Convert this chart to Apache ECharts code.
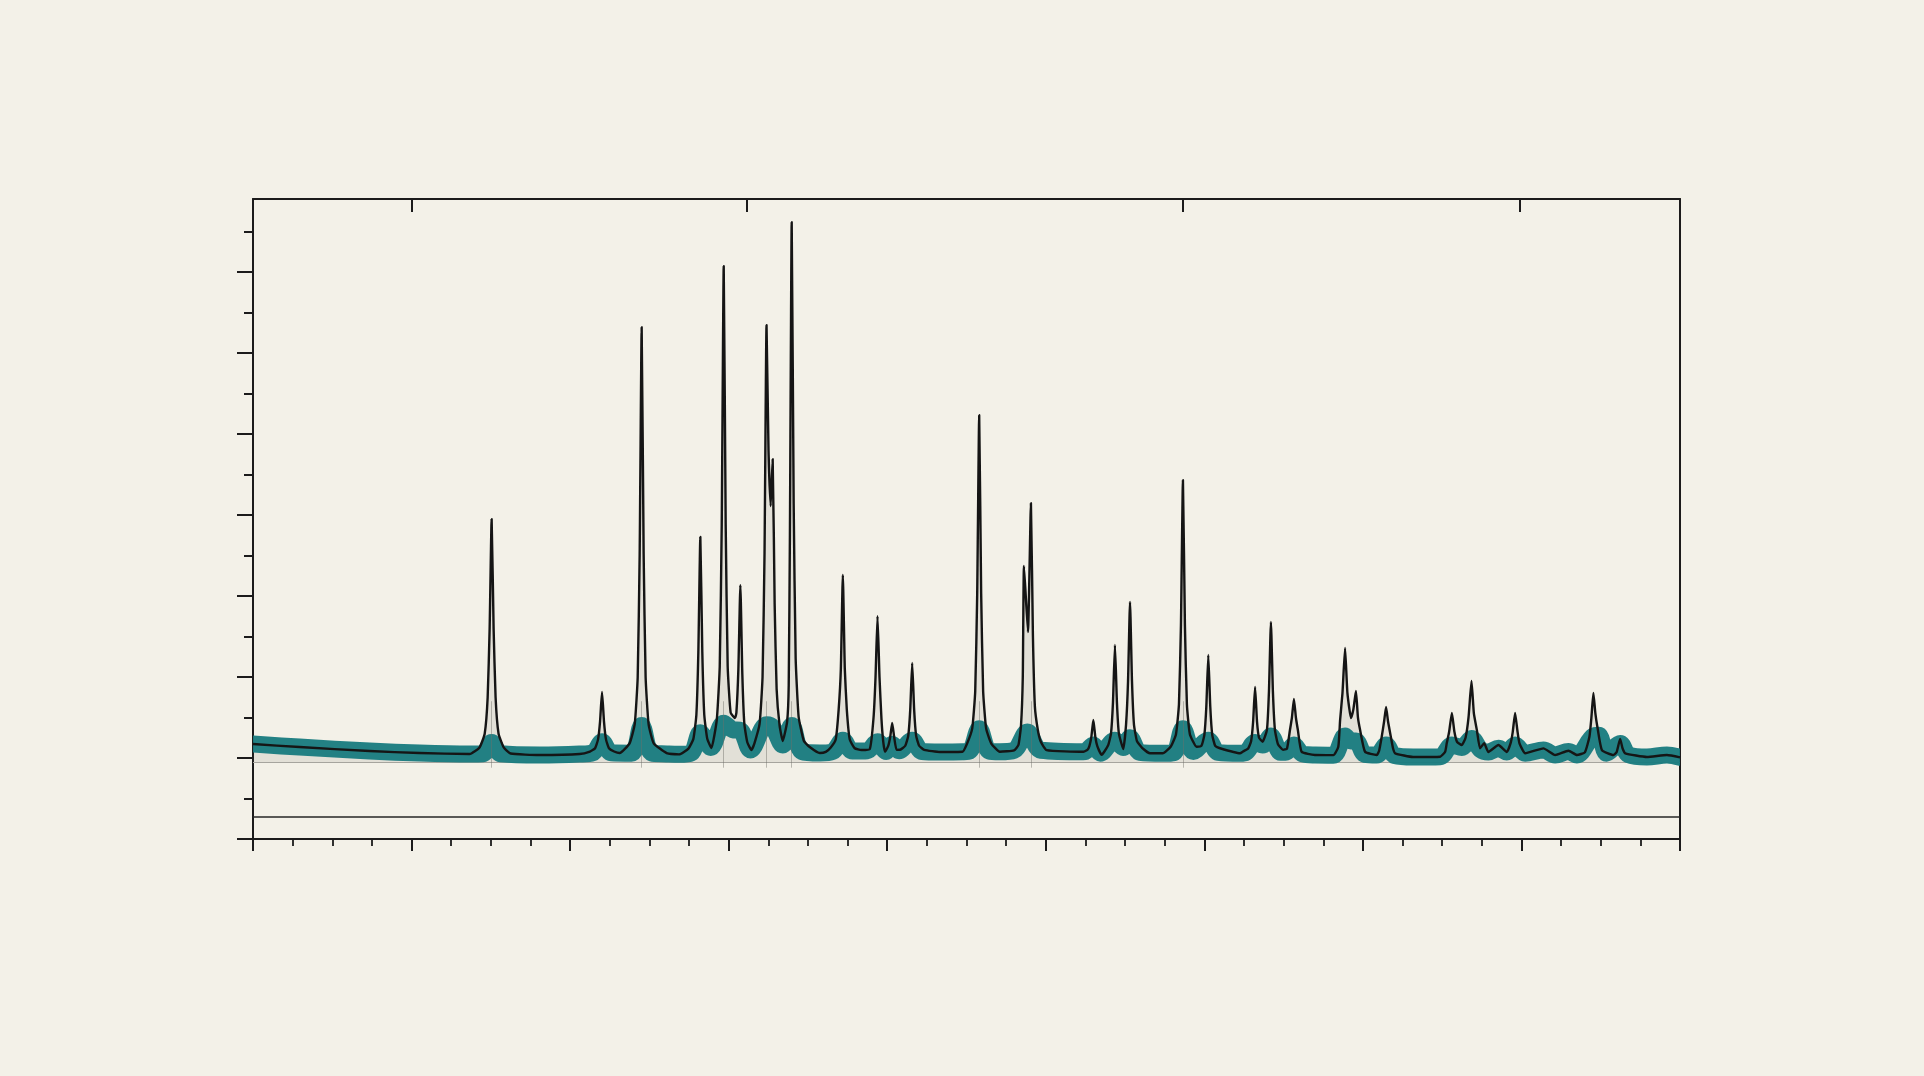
<!DOCTYPE html>
<html>
<head>
<meta charset="utf-8">
<script src="https://cdn.jsdelivr.net/npm/echarts@6/dist/echarts.min.js"></script>
<style>
html,body{margin:0;padding:0;background:#f3f1e8;}
#chart{width:1924px;height:1076px;}
</style>
</head>
<body>
<div id="chart"></div>
<script>
const twoTheta = [
  5.00,7.35,10.88,13.40,15.93,
  16.43,16.69,16.84,16.94,17.04,17.14,17.24,17.39,17.65,18.00,19.46,21.48,
  22.00,22.26,22.41,22.51,22.61,22.71,22.81,22.96,23.22,23.50,
  24.00,24.26,24.41,24.51,24.61,24.71,24.81,24.96,25.22,25.87,26.50,
  26.97,27.22,27.37,27.47,27.57,27.67,27.77,27.92,28.13,
  28.40,28.55,28.65,28.75,28.85,28.95,29.10,29.32,
  29.39,29.49,29.59,29.69,29.79,29.94,30.15,
  30.30,30.56,30.71,30.81,30.91,31.01,31.12,
  31.22,31.32,31.42,31.57,31.73,
  31.95,32.03,32.09,32.18,32.28,32.38,32.53,32.79,33.09,33.60,33.90,
  34.15,34.40,34.55,34.66,34.76,34.86,34.96,35.11,35.36,35.70,36.12,
  36.31,36.41,36.51,36.61,36.71,36.80,36.89,
  37.05,37.15,37.25,37.35,37.47,
  37.65,37.91,38.06,38.16,38.26,38.36,38.46,38.61,38.87,39.66,40.80,
  41.03,41.29,41.44,41.54,41.64,41.74,41.84,41.99,42.25,42.68,43.40,
  43.62,43.75,43.84,43.90,44.10,44.25,44.35,44.45,44.60,44.75,45.04,46.89,
  47.10,47.20,47.30,47.40,47.50,47.60,47.82,
  48.14,48.29,48.39,48.49,48.59,48.69,48.91,
  49.05,49.15,49.25,49.35,49.45,49.60,49.86,50.26,50.90,
  51.31,51.57,51.72,51.82,51.92,52.02,52.12,52.27,52.61,
  52.85,53.00,53.10,53.20,53.30,53.40,53.55,53.79,54.80,
  54.95,55.21,55.36,55.46,55.56,55.66,55.76,55.94,
  56.16,56.26,56.36,56.46,56.56,56.71,56.97,
  57.17,57.32,57.42,57.52,57.62,57.72,57.91,58.58,59.51,
  59.76,59.85,59.97,60.10,60.22,60.40,60.52,60.65,60.75,60.86,61.11,61.70,
  61.82,61.95,62.07,62.17,62.27,62.41,62.52,62.63,63.53,64.90,
  65.15,65.23,65.35,65.49,65.62,65.75,65.99,
  66.18,66.33,66.48,66.60,66.75,66.91,67.12,67.33,67.84,68.26,
  68.45,68.56,68.68,68.80,68.90,69.19,70.11,70.70,71.37,71.80,
  72.20,72.43,72.53,72.63,72.73,72.83,73.06,73.64,
  73.80,73.98,74.10,74.24,75.33,76.34,77.00
];
const intensity = [
  1172,1135,1086,1061,1049,
  1130,1300,1750,2600,3949,2600,1750,1300,1130,1055,1037,1049,
  1080,1120,1230,1450,1814,1450,1230,1120,1080,1061,
  1181,1418,1997,3525,6318,3525,1997,1418,1181,1061,1045,
  1116,1236,1531,2308,3727,2308,1531,1236,1123,
  1471,2133,3879,7071,3879,2133,1560,1493,
  1560,2100,3134,2029,1424,1195,1098,
  1181,1420,2002,3537,6343,4800,4109,
  4689,2900,1850,1400,1210,
  1450,1900,3751,7614,4135,2231,1509,1213,1135,1061,1075,
  1129,1227,1600,2100,3258,2100,1600,1227,1120,1098,1110,
  1500,2000,2752,2000,1480,1200,1075,
  1150,1260,1431,1260,1100,
  1101,1151,1272,1590,2172,1590,1272,1151,1101,1074,1077,
  1178,1365,1822,3028,5232,3028,1822,1365,1178,1077,1095,
  1160,1400,2000,3369,2554,4146,2524,1637,1345,1200,1098,1077,
  1100,1147,1261,1468,1261,1147,1040,
  1153,1300,1687,2394,1687,1300,1110,
  1412,1947,2925,1947,1412,1209,1126,1058,1058,
  1142,1294,1665,2643,4430,2643,1665,1294,1139,
  1149,1282,1632,2271,1632,1282,1149,1120,1058,
  1080,1117,1207,1444,1876,1444,1250,1201,
  1351,1820,2678,1820,1351,1173,1100,
  1116,1345,1500,1728,1500,1345,1077,1037,1035,
  1139,1468,1800,2357,1800,1493,1600,1826,1500,1345,1077,1037,
  1090,1262,1450,1629,1450,1262,1120,1058,1012,1016,
  1077,1181,1320,1555,1320,1200,1160,
  1250,1500,1950,1550,1345,1119,1181,1074,1160,1074,
  1180,1320,1555,1330,1181,1058,1119,1037,1090,1037,
  1070,1262,1500,1802,1550,1386,1098,1037,
  1070,1234,1120,1058,1012,1037,1008
];
// ---- calculated (teal band) trace ----
const calcTheta = [
  5.00,7.35,10.88,13.40,15.93,
  16.60,17.04,17.50,19.46,21.48,
  22.15,22.61,23.07,24.10,24.61,25.12,25.87,26.50,
  27.10,27.57,28.10,28.75,29.20,29.59,30.10,30.91,31.22,31.73,32.18,32.70,
  33.60,34.25,34.76,35.25,36.00,36.51,36.95,37.25,37.60,38.26,38.75,
  39.66,40.80,41.15,41.64,42.15,42.68,43.40,44.07,44.75,46.89,
  47.00,47.40,47.75,48.49,48.90,49.25,49.75,50.90,
  51.45,51.92,52.45,53.20,53.70,54.80,
  55.10,55.56,55.94,56.36,56.85,57.10,57.52,57.95,58.58,59.51,
  60.10,60.40,60.65,61.10,61.70,62.17,62.60,63.53,64.90,
  65.49,65.99,66.48,66.95,67.33,67.84,68.26,68.68,69.19,70.11,70.70,71.37,71.80,
  72.63,72.90,73.30,73.98,74.40,75.33,76.34,77.00
];
const calcIntensity = [
  1172,1135,1086,1061,1049,
  1052,1190,1052,1037,1049,
  1065,1200,1065,1060,1400,1060,1050,1045,
  1060,1310,1130,1430,1350,1340,1100,1410,1380,1160,1400,1080,
  1061,1080,1220,1085,1090,1200,1080,1170,1090,1220,1080,
  1074,1077,1085,1360,1085,1077,1095,1320,1095,1077,
  1080,1160,1060,1220,1130,1250,1070,1058,
  1065,1360,1080,1220,1070,1058,
  1070,1190,1160,1270,1070,1070,1160,1050,1037,1035,
  1270,1210,1210,1045,1037,1160,1030,1012,1016,
  1160,1130,1240,1100,1074,1120,1074,1160,1058,1100,1037,1080,1037,
  1270,1280,1060,1180,1040,1012,1037,1008
];
const braggPositions = [17.04, 24.61, 28.75, 30.91, 32.18, 41.64, 44.25, 51.92];
const braggLow = 880, braggHigh = 1700;
const zeroLevel = 944;      // grey reference line
const diffLevel = 272;      // flat difference trace

// axis ticks
const xMajorTicks = [5,13,21,29,37,45,53,61,69,77];
const xMinorTicks = [7,9,11,15,17,19,23,25,27,31,33,35,39,41,43,47,49,51,55,57,59,63,65,67,71,73,75];
const xTopTicks = [13, 29.9, 51.9, 68.9];
const yMajorTicks = [0,1000,2000,3000,4000,5000,6000,7000];
const yMinorTicks = [500,1500,2500,3500,4500,5500,6500,7500];

// ---- layout ----
const xMin = 5, xMax = 77, yMax = 7900;
const G = {left: 253, right: 244, top: 199, bottom: 237};
const plotW = 1924 - G.left - G.right;
const tealWidth = 17;
const pad = tealWidth / 2;
const pxPerDeg = plotW / (xMax - xMin);

const obs = twoTheta.map((x, i) => [x, intensity[i]]);
const calc = calcTheta.map((x, i) => [x, calcIntensity[i]]);
const ink = '#1b1b1b';
const hidden = {show: false};

const chart = echarts.init(document.getElementById('chart'), null, {renderer: 'canvas'});
chart.setOption({
  backgroundColor: '#f3f1e8',
  animation: false,
  grid: [
    {left: G.left, right: G.right, top: G.top, bottom: G.bottom},
    {left: G.left + pad, right: G.right + pad, top: G.top, bottom: G.bottom},
    {left: G.left, right: G.right, top: G.top, bottom: G.bottom}
  ],
  xAxis: [
    {gridIndex: 0, type: 'value', min: xMin, max: xMax, position: 'bottom',
     axisLine: {show: true, onZero: false, lineStyle: {color: ink, width: 2}},
     axisTick: {show: true, customValues: xMajorTicks, length: 12, inside: false, lineStyle: {color: ink, width: 2}},
     axisLabel: hidden, splitLine: hidden},
    {gridIndex: 0, type: 'value', min: xMin, max: xMax, position: 'top',
     axisLine: {show: true, onZero: false, lineStyle: {color: ink, width: 2}},
     axisTick: {show: true, customValues: xTopTicks, length: 13, inside: true, lineStyle: {color: ink, width: 2}},
     axisLabel: hidden, splitLine: hidden},
    {gridIndex: 1, type: 'value', min: xMin + pad / pxPerDeg, max: xMax - pad / pxPerDeg, show: false},
    {gridIndex: 2, type: 'value', min: xMin, max: xMax, position: 'bottom',
     axisLine: {show: false, onZero: false},
     axisTick: {show: true, customValues: xMinorTicks, length: 7, inside: false, lineStyle: {color: ink, width: 1.8}},
     axisLabel: hidden, splitLine: hidden}
  ],
  yAxis: [
    {gridIndex: 0, type: 'value', min: 0, max: yMax, position: 'left',
     axisLine: {show: true, onZero: false, lineStyle: {color: ink, width: 2}},
     axisTick: {show: true, customValues: yMajorTicks, length: 16, inside: false, lineStyle: {color: ink, width: 2}},
     axisLabel: hidden, splitLine: hidden},
    {gridIndex: 0, type: 'value', min: 0, max: yMax, position: 'right',
     axisLine: {show: true, onZero: false, lineStyle: {color: ink, width: 2}},
     axisTick: hidden, axisLabel: hidden, splitLine: hidden},
    {gridIndex: 1, type: 'value', min: 0, max: yMax, show: false},
    {gridIndex: 2, type: 'value', min: 0, max: yMax, position: 'left',
     axisLine: {show: false, onZero: false},
     axisTick: {show: true, customValues: yMinorTicks, length: 9, inside: false, lineStyle: {color: ink, width: 2}},
     axisLabel: hidden, splitLine: hidden}
  ],
  series: [
    {name: 'shade', type: 'line', xAxisIndex: 0, yAxisIndex: 0, data: obs,
     showSymbol: false, smooth: 0.15, lineStyle: {width: 0, opacity: 0},
     areaStyle: {origin: zeroLevel, color: 'rgba(95,95,90,0.16)'}, z: 1},
    {name: 'zero', type: 'line', xAxisIndex: 0, yAxisIndex: 0,
     data: [[xMin, zeroLevel], [xMax, zeroLevel]], showSymbol: false,
     lineStyle: {color: '#a6a59e', width: 1.2}, z: 2,
     markLine: {symbol: ['none', 'none'], silent: true, label: {show: false},
       lineStyle: {color: 'rgba(110,110,105,0.45)', width: 1, type: 'solid'},
       data: braggPositions.map(p => [{coord: [p, braggLow]}, {coord: [p, braggHigh]}])}},
    {name: 'calc', type: 'line', xAxisIndex: 2, yAxisIndex: 2, data: calc,
     showSymbol: false, clip: true, smooth: 0.35,
     lineStyle: {color: '#177a7e', width: tealWidth, opacity: 0.95, join: 'round', cap: 'round'}, z: 3},
    {name: 'obs', type: 'line', xAxisIndex: 0, yAxisIndex: 0, data: obs,
     showSymbol: false, smooth: 0.15, lineStyle: {color: '#151515', width: 2.4, join: 'round'}, z: 4},
    {name: 'diff', type: 'line', xAxisIndex: 0, yAxisIndex: 0,
     data: [[xMin, diffLevel], [xMax, diffLevel]], showSymbol: false,
     lineStyle: {color: '#262626', width: 1.6}, z: 4}
  ]
});
</script>
</body>
</html>
